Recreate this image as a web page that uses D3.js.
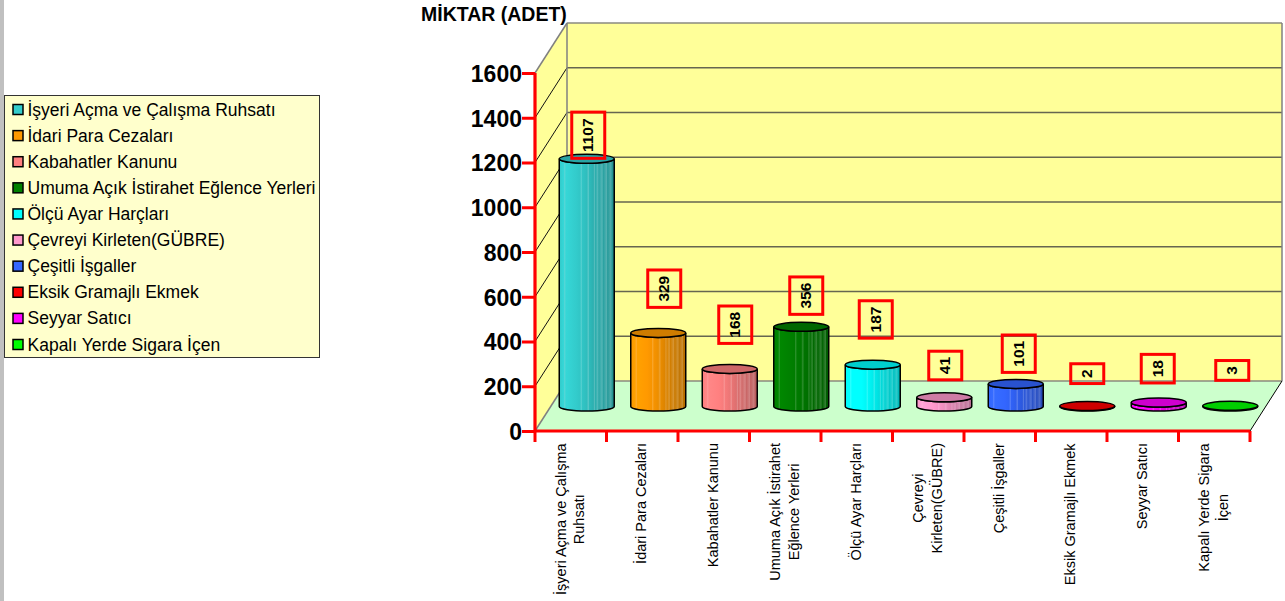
<!DOCTYPE html>
<html><head><meta charset="utf-8">
<style>html,body{margin:0;padding:0;background:#fff}svg{display:block}text{font-family:"Liberation Sans",Arial,sans-serif}</style>
<script src="https://cdn.jsdelivr.net/npm/d3@7/dist/d3.min.js"></script></head><body>
<script>
const categories=["İşyeri Açma ve Çalışma Ruhsatı","İdari Para Cezaları","Kabahatler Kanunu","Umuma Açık İstirahet Eğlence Yerleri","Ölçü Ayar Harçları","Çevreyi Kirleten(GÜBRE)","Çeşitli İşgaller","Eksik Gramajlı Ekmek","Seyyar Satıcı","Kapalı Yerde Sigara İçen"];
const axisLines=[["İşyeri Açma ve Çalışma","Ruhsatı"],["İdari Para Cezaları"],["Kabahatler Kanunu"],["Umuma Açık İstirahet","Eğlence Yerleri"],["Ölçü Ayar Harçları"],["Çevreyi","Kirleten(GÜBRE)"],["Çeşitli İşgaller"],["Eksik Gramajlı Ekmek"],["Seyyar Satıcı"],["Kapalı Yerde Sigara","İçen"]];
const values=[1107,329,168,356,187,41,101,2,18,3];
const colors=["#33CCCC","#FF9900","#FF8080","#008000","#00FFFF","#FF99CC","#3366FF","#FF0000","#FF00FF","#00FF00"];
const yTicks=[0,200,400,600,800,1000,1200,1400,1600];
// hand-placed data-label lifts above each bar top, and sideways nudges (layout only)
const labelLift=[0,25,25,12,26,17,11,22,19,25];
const labelNudge=[1.5,6,5.5,5,3,1,3,0,-1,2];

const W=1285,H=601,dx=32,dy=-50;
const svg=d3.select("body").append("svg").attr("width",W).attr("height",H);
const defs=svg.append("defs");
const x=d3.scaleBand().domain(categories).range([535,1250]);
const y=d3.scaleLinear().domain([0,1600]).range([431,73]);
const line=d3.line();

svg.append("rect").attr("x",0).attr("y",0).attr("width",4).attr("height",H).attr("fill","#C0C0C0");

// walls
const yTop=y(1600),yBot=y(0),L=x.range()[0],R=x.range()[1];
svg.append("path").attr("d",line([[L,yTop],[L+dx,yTop+dy],[L+dx,yBot+dy],[L,yBot]])+"Z").attr("fill","#FFFF99");
svg.append("rect").attr("x",L+dx).attr("y",yTop+dy).attr("width",R-L).attr("height",yBot-yTop).attr("fill","#FFFF99");
svg.append("path").attr("d",line([[L,yBot],[R,yBot],[R+dx,yBot+dy],[L+dx,yBot+dy]])+"Z").attr("fill","#CCFFCC");
// gridlines
yTicks.forEach(v=>{
  const edge=v===0||v===1600, yy=y(v)+dy;
  svg.append("path").attr("d",line([[L,y(v)],[L+dx,yy]])).attr("fill","none").attr("stroke",edge?"#808080":"#111").attr("stroke-width",edge?1.5:1);
  svg.append("path").attr("d",line([[L+dx,yy],[R+dx,yy]])).attr("fill","none").attr("stroke",edge?"#8a8a80":"#666650").attr("stroke-width",1.4);
});
svg.append("path").attr("d",line([[L+dx,yTop+dy],[L+dx,yBot+dy]])).attr("stroke","#808080").attr("stroke-width",1.5);
svg.append("path").attr("d",line([[R+dx,yTop+dy],[R+dx,yBot+dy]])).attr("stroke","#808080").attr("stroke-width",1.5);
svg.append("path").attr("d",line([[R,yBot],[R+dx,yBot+dy]])).attr("stroke","#000");

// cylinders
const ry=4.5, baseLift=24.5;
colors.forEach((c,i)=>{
  const dark=d3.rgb(c).darker(1), lite=d3.rgb(c).brighter(.15);
  const mix=t=>d3.interpolateRgb(c,dark)(t), w=t=>d3.interpolateRgb(mix(t),"#fff")(.2);
  const g=defs.append("linearGradient").attr("id","g"+i);
  const st=[[0,mix(.05)],[.08,lite],[.1,w(0)],[.12,lite],[.3,c],[.38,mix(.1)],[.4,w(.1)],[.42,mix(.12)],[.5,mix(.25)],[.53,w(.3)],[.55,mix(.3)],[.62,mix(.45)],[.64,w(.5)],[.66,mix(.5)],[.7,w(.55)],[.72,mix(.6)],[.78,w(.65)],[.8,mix(.7)],[.86,w(.75)],[.88,mix(.8)],[.94,w(.85)],[.96,mix(.9)],[1,dark]];
  st.forEach(s=>g.append("stop").attr("offset",s[0]).attr("stop-color",s[1]));
});
const bars=svg.selectAll("g.bar").data(values).join("g").attr("class","bar");
bars.each(function(v,i){
  const cat=categories[i], cx=x(cat)+x.bandwidth()/2+dx/2, rx=27.5;
  const yb=y(0)-baseLift, yt=y(v)-baseLift, sel=d3.select(this);
  sel.append("path").attr("d",`M${cx-rx},${yt}V${yb}A${rx},${ry} 0 0 0 ${cx+rx},${yb}V${yt}A${rx},${ry} 0 0 1 ${cx-rx},${yt}Z`)
    .attr("fill",`url(#g${i})`).attr("stroke","#000").attr("stroke-width",1.5);
  sel.append("ellipse").attr("cx",cx).attr("cy",yt).attr("rx",rx).attr("ry",ry)
    .attr("fill",d3.rgb(colors[i]).darker(.6)).attr("stroke","#000").attr("stroke-width",1.5);
});

// axes
const yAxis=svg.append("g").attr("transform",`translate(${L},0)`).call(d3.axisLeft(y).tickValues(yTicks).tickSize(13).tickPadding(0).tickFormat(d3.format("d")));
const xAxis=svg.append("g").attr("transform",`translate(0,${yBot})`).call(d3.axisBottom(x).tickSize(0).tickFormat(""));
xAxis.selectAll(".tick").remove();
svg.selectAll(".domain").attr("stroke","#FF0000").attr("stroke-width",3.2);
yAxis.select(".domain").attr("d",`M0,${yTop}V${yBot}`);
xAxis.select(".domain").attr("d",`M${L},0H${R}`);
yAxis.selectAll(".tick line").attr("stroke","#FF0000").attr("stroke-width",3);
yAxis.selectAll(".tick text").attr("font-size",23).attr("font-weight","bold").attr("fill","#000").attr("y",1).style("font-family",'"Liberation Sans",Arial,sans-serif');
const xEdges=categories.map(c=>x(c)).concat([R]);
xAxis.selectAll("line.edge").data(xEdges).join("line").attr("class","edge").attr("x1",d=>d).attr("x2",d=>d).attr("y1",0).attr("y2",11).attr("stroke","#FF0000").attr("stroke-width",3);

// x labels
const xl=svg.append("g");
axisLines.forEach((lines,i)=>{
  const cx=x(categories[i])+x.bandwidth()/2;
  const t=xl.append("text").attr("font-size",14.5).attr("fill","#000").attr("text-anchor","middle");
  lines.forEach((s,k)=>{
    const off=(k-(lines.length-1)/2)*18.5;
    t.append("tspan").attr("x",0).attr("y",off+4).text(s);
  });
  const w=t.node().getBBox().width;
  t.attr("transform",`translate(${cx},${443+w/2}) rotate(-90)`);
});

// data labels
values.forEach((v,i)=>{
  const cat=categories[i], cx=x(cat)+x.bandwidth()/2+dx/2+labelNudge[i];
  const yt=y(v)-25, n=String(v).length;
  const h=11+n*8.8, w=33, by=yt-labelLift[i]-h;
  svg.append("rect").attr("x",cx-w/2).attr("y",by).attr("width",w).attr("height",h).attr("fill","none").attr("stroke","#FF0000").attr("stroke-width",3);
  svg.append("text").attr("transform",`translate(${cx+5},${by+h/2}) rotate(-90)`).attr("text-anchor","middle").attr("font-size",15.5).attr("font-weight","bold").text(v);
});

// title
svg.append("text").attr("x",421).attr("y",20.5).attr("font-size",19.5).attr("font-weight","bold").attr("fill","#000").text("MİKTAR (ADET)");

// legend
svg.append("rect").attr("x",4.5).attr("y",95.5).attr("width",315).attr("height",262).attr("fill","#FFFFCC").attr("stroke","#333").attr("stroke-width",1);
const ly=d3.scalePoint().domain(categories).range([109.5,344.5]);
categories.forEach((c,i)=>{
  svg.append("rect").attr("x",13).attr("y",ly(c)-5).attr("width",10).attr("height",10).attr("fill",colors[i]).attr("stroke","#000").attr("stroke-width",1.5);
  svg.append("text").attr("x",27.5).attr("y",ly(c)+6).attr("font-size",17.5).attr("fill","#000").text(c);
});
</script></body></html>
